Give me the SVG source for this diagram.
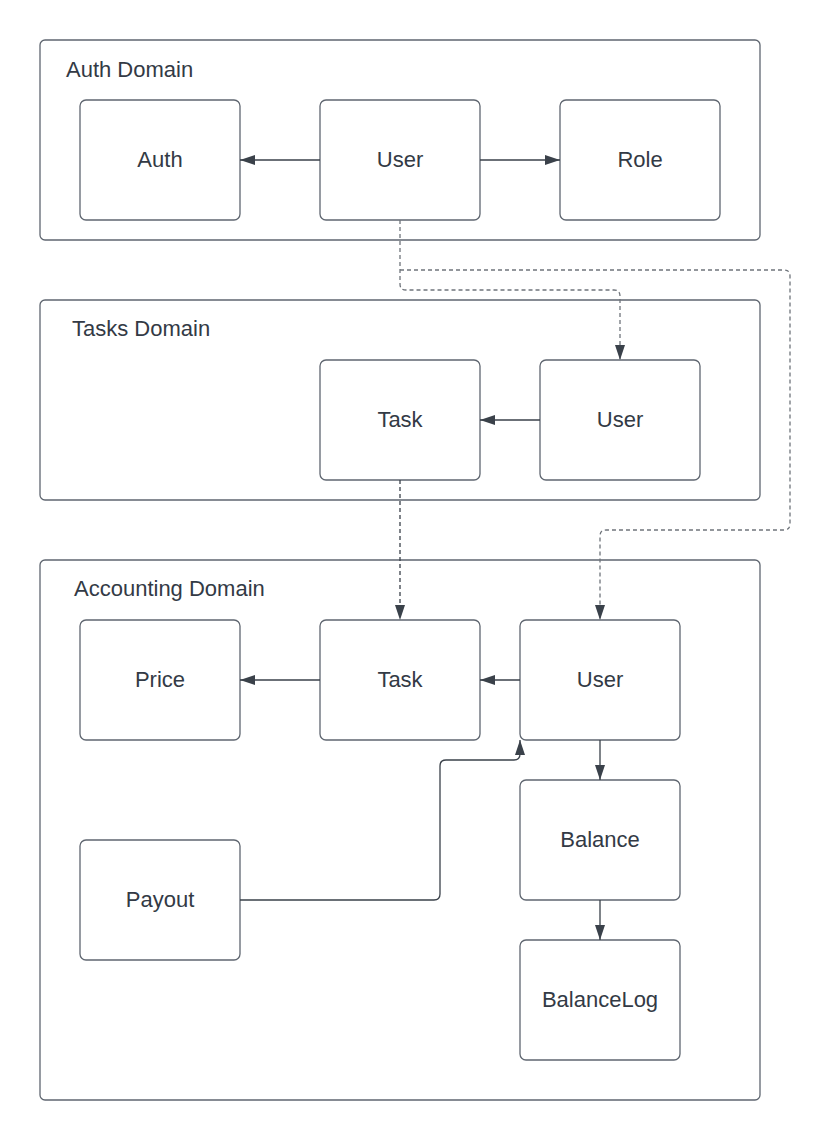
<svg xmlns="http://www.w3.org/2000/svg" width="830" height="1140" viewBox="0 0 830 1140">
<style>
.dom{fill:#fff;stroke:#5f6670;stroke-width:1.3}
.node{fill:#fff;stroke:#5f6670;stroke-width:1.3}
.t{font-family:"Liberation Sans",Arial,sans-serif;font-size:22px;fill:#333a45}
.c{text-anchor:middle}
.ln{fill:none;stroke:#3a414a;stroke-width:1.3}
.dl{fill:none;stroke:#6f747b;stroke-width:1.3;stroke-dasharray:4 3}
.dd{fill:none;stroke:#3a414a;stroke-width:1.3;stroke-dasharray:4 3}
</style>
<defs>
<marker id="ah" markerWidth="15" markerHeight="10" refX="15" refY="5" orient="auto" markerUnits="userSpaceOnUse">
<path d="M0,0 L15,5 L0,10 Z" fill="#3a414a"/>
</marker>
</defs>
<rect width="830" height="1140" fill="#fff"/>
<g id="auth-domain">
<rect class="dom" x="40" y="40" width="720" height="200" rx="5"/>
<text class="t" x="66" y="77">Auth Domain</text>
</g>
<g id="tasks-domain">
<rect class="dom" x="40" y="300" width="720" height="200" rx="5"/>
<text class="t" x="72" y="336">Tasks Domain</text>
</g>
<g id="accounting-domain">
<rect class="dom" x="40" y="560" width="720" height="540" rx="5"/>
<text class="t" x="74" y="596">Accounting Domain</text>
</g>
<g id="auth"><rect class="node" x="80" y="100" width="160" height="120" rx="6"/><text class="t c" x="160" y="167">Auth</text></g>
<g id="auth-user"><rect class="node" x="320" y="100" width="160" height="120" rx="6"/><text class="t c" x="400" y="167">User</text></g>
<g id="role"><rect class="node" x="560" y="100" width="160" height="120" rx="6"/><text class="t c" x="640" y="167">Role</text></g>
<g id="tasks-task"><rect class="node" x="320" y="360" width="160" height="120" rx="6"/><text class="t c" x="400" y="427">Task</text></g>
<g id="tasks-user"><rect class="node" x="540" y="360" width="160" height="120" rx="6"/><text class="t c" x="620" y="427">User</text></g>
<g id="price"><rect class="node" x="80" y="620" width="160" height="120" rx="6"/><text class="t c" x="160" y="687">Price</text></g>
<g id="acc-task"><rect class="node" x="320" y="620" width="160" height="120" rx="6"/><text class="t c" x="400" y="687">Task</text></g>
<g id="acc-user"><rect class="node" x="520" y="620" width="160" height="120" rx="6"/><text class="t c" x="600" y="687">User</text></g>
<g id="balance"><rect class="node" x="520" y="780" width="160" height="120" rx="6"/><text class="t c" x="600" y="847">Balance</text></g>
<g id="balancelog"><rect class="node" x="520" y="940" width="160" height="120" rx="6"/><text class="t c" x="600" y="1007">BalanceLog</text></g>
<g id="payout"><rect class="node" x="80" y="840" width="160" height="120" rx="6"/><text class="t c" x="160" y="907">Payout</text></g>
<g id="connectors">
<path class="ln" d="M320,160 H240" marker-end="url(#ah)"/>
<path class="ln" d="M480,160 H560" marker-end="url(#ah)"/>
<path class="ln" d="M540,420 H480" marker-end="url(#ah)"/>
<path class="ln" d="M320,680 H240" marker-end="url(#ah)"/>
<path class="ln" d="M520,680 H480" marker-end="url(#ah)"/>
<path class="ln" d="M600,740 V780" marker-end="url(#ah)"/>
<path class="ln" d="M600,900 V940" marker-end="url(#ah)"/>
<path class="ln" d="M240,900 H434 Q440,900 440,894 V766 Q440,760 446,760 H514 Q520,760 520,754 V740" marker-end="url(#ah)"/>
<path class="dl" d="M400,220 V284 Q400,290 406,290 H614 Q620,290 620,296 V360" marker-end="url(#ah)"/>
<path class="dl" d="M400,270 H784 Q790,270 790,276 V524 Q790,530 784,530 H606 Q600,530 600,536 V620" marker-end="url(#ah)"/>
<path class="dd" d="M400,480 V620" marker-end="url(#ah)"/>
</g>
</svg>
